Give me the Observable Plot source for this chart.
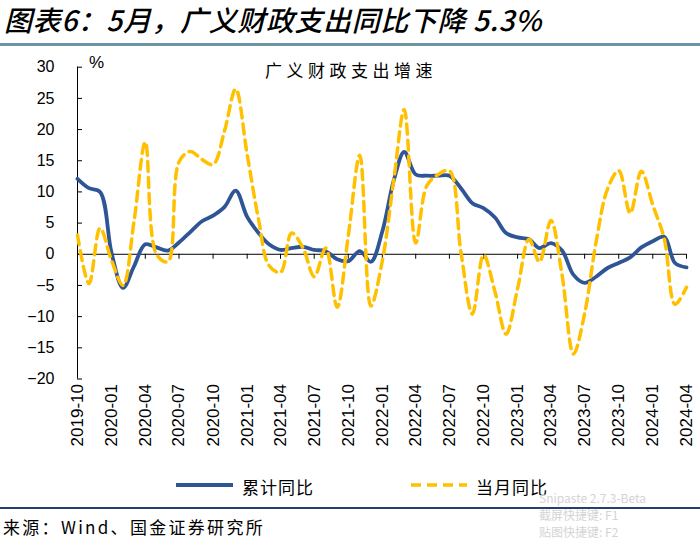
<!DOCTYPE html>
<html><head><meta charset="utf-8">
<script src="https://cdn.jsdelivr.net/npm/d3@7"></script>
<script src="https://cdn.jsdelivr.net/npm/@observablehq/plot@0.6"></script>
<style>
body{margin:0;background:#fff;}
#wrap{position:relative;width:700px;height:540px;overflow:hidden;font-family:"Noto Sans CJK SC",sans-serif;color:#000;}
#title{position:absolute;left:4px;top:-1px;font-size:28px;font-style:italic;font-weight:500;white-space:nowrap;letter-spacing:0.6px;}
#rule1{position:absolute;left:0;top:43px;width:700px;height:3px;background:#6a93a6;}
#chart{position:absolute;left:0;top:40px;}
#subtitle{position:absolute;left:265px;top:57px;font-size:17px;letter-spacing:4.5px;white-space:nowrap;}
#unit{position:absolute;left:89px;top:53px;font-family:"Liberation Sans",Arial,sans-serif;font-size:17px;}
.leg{position:absolute;top:474px;font-size:17px;letter-spacing:1px;white-space:nowrap;}
.legsw{position:absolute;top:481px;}
#rule2{position:absolute;left:0;top:507px;width:700px;height:2px;background:#23406e;}
#source{position:absolute;left:3px;top:514px;font-size:17px;letter-spacing:2.3px;white-space:nowrap;}
#wm{position:absolute;left:539px;top:489px;font-size:12px;line-height:17px;color:#d4d4d4;font-family:"Liberation Sans Narrow","Noto Sans CJK SC",sans-serif;white-space:nowrap;}
</style></head><body>
<div id="wrap">
  <div id="title">图表6：5月，广义财政支出同比下降 5.3%</div>
  <div id="rule1"></div>
  <div id="chart"></div>
  <div id="subtitle">广义财政支出增速</div>
  <div id="unit">%</div>
  <svg class="legsw" style="left:176px" width="60" height="8"><line x1="0" y1="4" x2="57" y2="4" stroke="#2f5597" stroke-width="3.8"/></svg>
  <div class="leg" style="left:242px">累计同比</div>
  <svg class="legsw" style="left:410px" width="60" height="8"><line x1="1" y1="4" x2="57" y2="4" stroke="#ffc000" stroke-width="3.5" stroke-dasharray="10,6"/></svg>
  <div class="leg" style="left:476px">当月同比</div>
  <div id="rule2"></div>
  <div id="source">来源：Wind、国金证券研究所</div>
  <div id="wm">Snipaste 2.7.3-Beta<br>截屏快捷键: F1<br>贴图快捷键: F2</div>
</div>
<script>
const months = ["2019-10","2019-11","2019-12","2020-01","2020-02","2020-03","2020-04","2020-05","2020-06","2020-07","2020-08","2020-09","2020-10","2020-11","2020-12",
"2021-01","2021-02","2021-03","2021-04","2021-05","2021-06","2021-07","2021-08","2021-09","2021-10","2021-11","2021-12",
"2022-01","2022-02","2022-03","2022-04","2022-05","2022-06","2022-07","2022-08","2022-09","2022-10","2022-11","2022-12",
"2023-01","2023-02","2023-03","2023-04","2023-05","2023-06","2023-07","2023-08","2023-09","2023-10","2023-11","2023-12",
"2024-01","2024-02","2024-03","2024-04"];
const cumulative = [12.1,10.6,10.0,0.2,-5.4,-2.0,1.6,1.1,0.6,1.9,3.6,5.3,6.2,7.6,10.2,
6.0,3.4,1.6,0.7,1.0,1.2,0.7,0.5,-0.8,-1.1,0.5,-1.2,
3.7,11.9,16.4,12.8,12.6,12.6,12.6,10.6,8.2,7.4,5.9,3.4,
2.7,2.4,1.0,1.8,0.6,-3.3,-4.6,-3.6,-2.2,-1.4,-0.5,1.1,
2.1,2.8,-1.4,-2.1];
const monthly = [3.1,-4.7,4.2,-1.0,-5.0,5.0,18.0,0.0,-1.2,14.8,16.5,15.2,14.4,19.8,26.5,
16.0,5.5,-1.8,-2.9,3.4,1.0,-3.6,1.0,-8.5,3.0,15.9,-8.3,
-1.0,12.0,23.2,1.8,11.0,12.8,13.4,0.4,-9.6,-0.1,-6.0,-12.8,
-5.5,2.4,-1.2,5.4,-3.3,-16.0,-9.5,2.0,10.5,13.4,6.6,13.3,
7.9,2.5,-8.0,-5.3];
const yTicks = [30,25,20,15,10,5,0,-5,-10,-15,-20];
const xTickLabels = ["2019-10","2020-01","2020-04","2020-07","2020-10","2021-01","2021-04","2021-07","2021-10","2022-01","2022-04","2022-07","2022-10","2023-01","2023-04","2023-07","2023-10","2024-01","2024-04"];

const parse = d3.utcParse("%Y-%m");
const data = months.map((m, i) => ({date: parse(m), cum: cumulative[i], mon: monthly[i]}));
const tickDates = xTickLabels.map(parse);

const W = 700, H = 430, mT = 26.7, mB = 91.5, mL = 77, mR = 14;
const yDomain = [-20, 30];
const ys = Plot.scale({y: {domain: yDomain, range: [H - mB, mT]}});
const zeroShift = ys.apply(0) - ys.apply(-20);
const font = "Liberation Sans, Arial, sans-serif";

const chart = Plot.plot({
  width: W, height: H,
  marginTop: mT, marginBottom: mB, marginLeft: mL, marginRight: mR,
  style: {fontFamily: font, background: "transparent", color: "#000"},
  x: {type: "utc", domain: [data[0].date, data[data.length - 1].date], label: null},
  y: {domain: yDomain, label: null},
  marks: [
    Plot.ruleX([data[0].date], {stroke: "#000", strokeWidth: 1}),
    Plot.ruleY([0], {stroke: "#000", strokeWidth: 1}),
    Plot.axisY(yTicks, {anchor: "left", tickSize: 0, tickPadding: 23, fontSize: 16, label: null}),
    Plot.axisY(yTicks, {anchor: "left", tickSize: -5, tickFormat: () => "", label: null}),
    Plot.axisX(tickDates, {anchor: "bottom", tickSize: 5, tickFormat: () => "", dy: zeroShift, label: null}),
    Plot.axisX(tickDates, {anchor: "bottom", tickSize: 0, tickRotate: -90, tickPadding: 5, fontSize: 17, tickFormat: d3.utcFormat("%Y-%m"), label: null}),
    Plot.line(data, {x: "date", y: "cum", curve: "catmull-rom", stroke: "#2f5597", strokeWidth: 3.8}),
    Plot.line(data, {x: "date", y: "mon", curve: "catmull-rom", stroke: "#ffc000", strokeWidth: 3.5, strokeDasharray: "10,6"})
  ]
});
document.getElementById("chart").appendChild(chart);
</script>
</body></html>
